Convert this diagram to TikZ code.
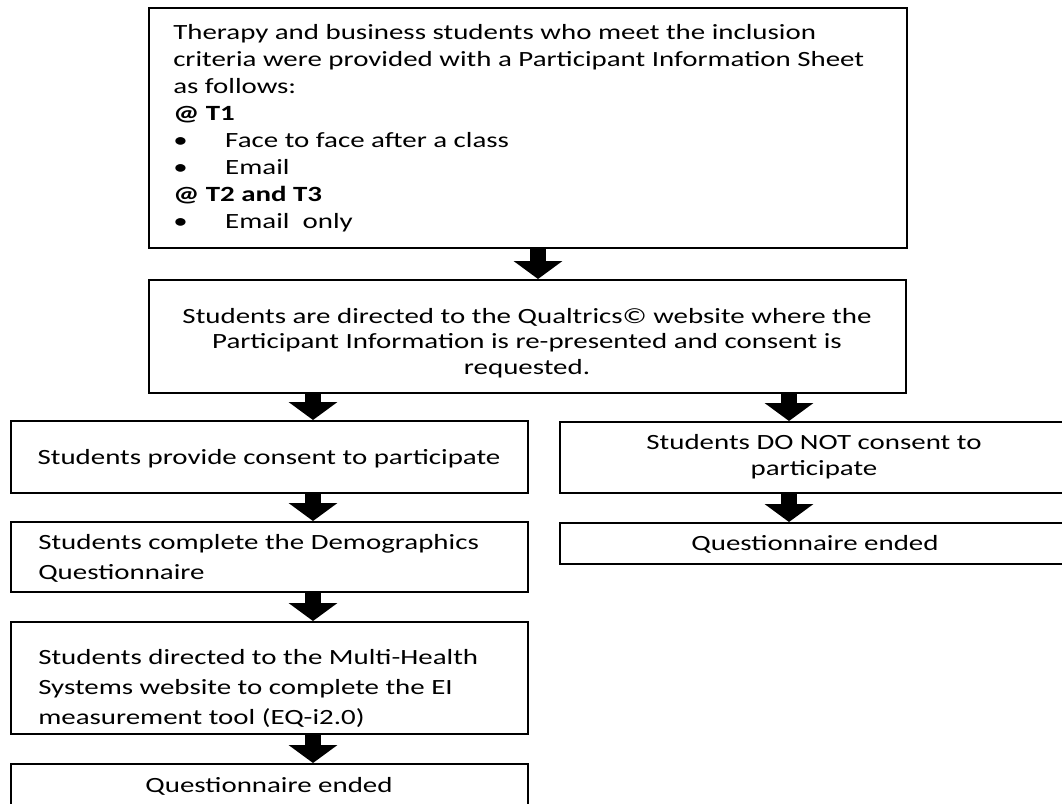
\documentclass[tikz,border=0pt]{standalone}
\usepackage{fontspec}
\setmainfont{Carlito}[FakeStretch=1.33]
\usetikzlibrary{arrows.meta}
\begin{document}
\begin{tikzpicture}[x=0.75pt,y=-0.75pt,
  box/.style={draw=black,line width=1.2pt,inner sep=0pt,anchor=north west},
  txt/.style={inner sep=0pt,font=\fontsize{16.3}{#1}\selectfont},
  txt/.default=20.3pt,
  flow/.style={line width=12.5pt,-{Triangle[width=36pt,length=13.5pt]}}]
\useasboundingbox (0,0) rectangle (1062,803);
% frames
\node[box,minimum width=758*0.75pt,minimum height=240*0.75pt] (info) at (148,7) {};
\node[box,minimum width=757*0.75pt,minimum height=113*0.75pt] (qual) at (148,279) {};
\node[box,minimum width=517*0.75pt,minimum height=72*0.75pt] (yes) at (10,420) {};
\node[box,minimum width=510*0.75pt,minimum height=71*0.75pt] (no) at (559,421) {};
\node[box,minimum width=510*0.75pt,minimum height=41*0.75pt] (noend) at (559,522) {};
\node[box,minimum width=517*0.75pt,minimum height=70*0.75pt] (demo) at (10,521) {};
\node[box,minimum width=517*0.75pt,minimum height=112*0.75pt] (mhs) at (10,621) {};
\node[box,minimum width=517*0.75pt,minimum height=70*0.75pt] (end) at (10,763) {};
% texts
\node[txt=20.3pt,anchor=north west,align=left] (infotext) at (173,24)
 {Therapy and business students who meet the inclusion\\
  criteria were provided with a Participant Information Sheet\\
  as follows:\\
  \textbf{@ T1}\\
  \makebox[39pt][l]{\textbullet}Face to face after a class\\
  \makebox[39pt][l]{\textbullet}Email\\
  \textbf{@ T2 and T3}\\
  \makebox[39pt][l]{\textbullet}Email\ \ only};
\node[txt=19.1pt,anchor=north,align=center] (qualtext) at (527,308)
 {Students are directed to the Qualtrics© website where the\\
  Participant Information is re-presented and consent is\\
  requested.};
\node[txt,anchor=north] (yestext) at (269,449) {Students provide consent to participate};
\node[txt=19.5pt,anchor=north,align=center] (notext) at (814,434)
 {Students DO NOT consent to\\participate};
\node[txt,anchor=north] (noendtext) at (815,535) {Questionnaire ended};
\node[txt=22.5pt,anchor=north west,align=left] (demotext) at (38,534)
 {Students complete the Demographics\\Questionnaire};
\node[txt=22.5pt,anchor=north west,align=left] (mhstext) at (38,649)
 {Students directed to the Multi-Health\\Systems website to complete the EI\\measurement tool (EQ-i2.0)};
\node[txt,anchor=north] (endtext) at (269,777) {Questionnaire ended};
% block arrows between the frames
\draw[flow] (info.south -| 538,0) -- (qual.north -| 538,0);
\draw[flow] (qual.south -| 313,0) -- (yes.north -| 313,0);
\draw[flow] (qual.south -| 789,0) -- (no.north -| 789,0);
\draw[flow] (no.south -| 789,0) -- (noend.north -| 789,0);
\draw[flow] (yes.south -| 313,0) -- (demo.north -| 313,0);
\draw[flow] (demo.south -| 313,0) -- (mhs.north -| 313,0);
\draw[flow] (mhs.south -| 313,0) -- (end.north -| 313,0);
\end{tikzpicture}
\end{document}
